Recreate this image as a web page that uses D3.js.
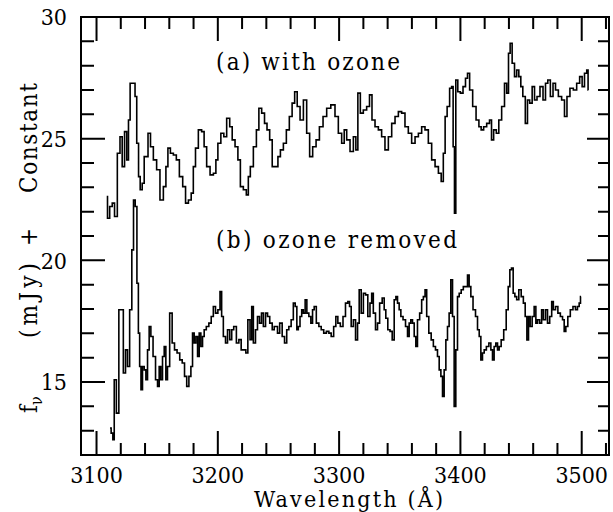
<!DOCTYPE html>
<html><head><meta charset="utf-8">
<script src="https://cdn.jsdelivr.net/npm/d3@7"></script>
</head>
<body style="margin:0"><svg id="c" width="613" height="512"></svg>
<script>
// spectrum (a) with ozone: [wavelength (Å), flux (mJy + const)]
const specA = [[3108.4,22.62],[3109.7,21.73],[3112.0,22.21],[3113.9,22.35],[3115.8,21.80],[3118.5,24.40],[3120.2,25.08],[3122.1,23.85],[3124.1,25.29],[3125.7,24.13],[3127.0,25.77],[3128.4,27.28],[3131.2,27.28],[3132.3,26.73],[3134.0,24.81],[3135.3,23.44],[3136.7,22.90],[3138.6,23.17],[3140.0,24.26],[3141.4,24.26],[3143.5,25.22],[3145.5,24.67],[3148.2,24.13],[3150.9,23.72],[3153.7,22.48],[3156.5,23.03],[3157.9,23.85],[3159.8,24.61],[3162.0,24.40],[3164.7,24.33],[3166.9,24.13],[3169.7,23.44],[3172.4,23.03],[3174.4,22.35],[3177.1,22.48],[3179.0,22.76],[3180.6,23.85],[3182.6,24.61],[3185.3,25.36],[3188.0,25.29],[3189.4,24.67],[3192.2,23.85],[3195.0,23.51],[3197.7,23.58],[3199.1,24.13],[3201.0,24.81],[3204.0,25.22],[3205.9,25.08],[3208.7,25.84],[3210.9,25.49],[3212.8,24.95],[3215.6,24.67],[3217.5,24.13],[3219.7,23.03],[3222.4,22.90],[3224.6,22.69],[3225.7,23.44],[3227.9,23.85],[3230.7,24.67],[3232.9,25.36],[3234.8,26.25],[3237.5,26.05],[3239.5,25.63],[3241.6,25.36],[3243.9,24.95],[3245.8,23.85],[3248.6,23.85],[3250.5,24.26],[3252.7,24.54],[3255.4,24.81],[3257.6,25.36],[3260.3,25.91],[3262.2,26.46],[3264.5,26.93],[3266.4,26.32],[3269.2,25.77],[3271.9,26.59],[3274.6,25.22],[3276.8,24.26],[3279.6,24.67],[3282.4,24.95],[3285.1,25.49],[3288.4,25.91],[3291.1,26.25],[3295.2,26.39],[3298.0,25.91],[3300.7,25.22],[3303.5,24.81],[3304.9,25.36],[3307.6,24.95],[3310.4,24.47],[3313.1,25.08],[3314.5,24.54],[3316.4,26.87],[3318.6,26.05],[3321.3,26.18],[3324.1,26.32],[3326.0,26.80],[3328.2,25.77],[3331.0,25.49],[3333.7,25.36],[3336.4,25.08],[3339.2,24.54],[3342.0,25.08],[3344.7,25.63],[3347.5,25.91],[3350.2,26.11],[3352.9,26.05],[3355.7,25.49],[3358.4,25.22],[3361.2,24.81],[3364.0,25.08],[3366.7,25.22],[3369.4,25.49],[3372.2,25.36],[3374.9,24.81],[3377.7,24.13],[3380.5,23.85],[3383.2,23.58],[3385.1,23.24],[3386.7,24.40],[3388.1,25.91],[3390.0,26.32],[3392.2,27.07],[3393.3,27.14],[3394.7,24.67],[3395.5,21.94],[3396.9,27.41],[3398.8,26.93],[3401.1,26.87],[3403.2,27.14],[3405.2,27.48],[3406.5,27.69],[3408.7,27.00],[3411.5,26.32],[3414.3,25.77],[3416.2,25.49],[3418.0,25.36],[3420.3,25.49],[3423.0,25.63],[3425.0,25.77],[3426.3,24.95],[3428.5,25.36],[3430.7,25.22],[3432.6,25.77],[3435.4,26.32],[3437.3,27.28],[3439.0,26.87],[3440.3,28.51],[3441.7,28.92],[3443.6,28.10],[3445.6,27.55],[3447.2,27.82],[3449.1,27.55],[3450.5,27.14],[3452.4,26.73],[3454.6,25.63],[3456.0,26.59],[3458.2,26.46],[3460.1,27.14],[3462.1,26.59],[3464.2,26.73],[3467.0,27.14],[3469.2,26.59],[3471.1,27.28],[3473.0,27.41],[3475.3,26.73],[3477.4,27.28],[3479.4,27.00],[3482.1,26.73],[3484.8,26.59],[3486.8,25.91],[3488.9,26.73],[3491.7,27.07],[3494.5,27.00],[3497.2,27.28],[3499.4,27.55],[3501.3,27.14],[3503.3,27.69],[3505.0,27.82],[3505.5,27.00]];

// spectrum (b) ozone removed
const specB = [[3111.1,13.11],[3113.0,12.90],[3113.9,12.63],[3115.3,15.09],[3117.4,13.72],[3119.4,17.97],[3121.3,17.97],[3122.9,15.37],[3124.9,16.32],[3126.2,15.64],[3128.4,17.97],[3129.8,20.43],[3131.2,22.48],[3132.6,22.21],[3134.0,19.06],[3135.0,17.01],[3136.1,15.64],[3137.2,14.68],[3138.6,15.64],[3140.0,15.50],[3141.4,15.09],[3142.7,16.32],[3144.1,17.28],[3145.5,16.87],[3147.7,16.05],[3149.6,15.09],[3151.0,14.82],[3152.3,15.64],[3153.7,15.09],[3155.1,16.05],[3156.5,16.46],[3157.8,15.09],[3159.2,15.64],[3161.4,17.83],[3163.3,16.60],[3165.3,16.32],[3167.5,16.19],[3169.7,15.91],[3171.6,15.78],[3173.5,15.23],[3175.2,14.82],[3177.1,15.23],[3178.5,15.64],[3179.8,17.01],[3181.2,16.60],[3182.6,16.87],[3184.0,16.05],[3185.3,17.01],[3186.7,16.46],[3188.1,16.87],[3189.4,17.15],[3191.6,17.28],[3193.6,17.42],[3195.5,17.69],[3197.1,18.10],[3199.1,17.83],[3201.0,17.97],[3202.6,18.72],[3203.7,17.69],[3205.4,16.87],[3207.3,16.60],[3208.7,17.15],[3210.9,16.74],[3212.0,17.15],[3214.2,17.28],[3216.4,16.60],[3218.3,16.74],[3220.2,16.32],[3222.4,16.32],[3223.8,16.19],[3225.7,17.56],[3227.4,16.74],[3228.5,18.10],[3230.1,16.60],[3232.0,17.15],[3233.4,17.69],[3235.3,17.42],[3236.7,17.83],[3238.4,17.28],[3240.3,17.83],[3241.7,17.69],[3243.9,17.42],[3245.8,17.15],[3247.2,17.28],[3248.5,17.28],[3249.9,17.01],[3252.1,17.42],[3254.0,16.87],[3256.0,16.60],[3257.6,17.15],[3259.5,17.28],[3261.4,17.56],[3263.1,18.24],[3264.5,18.10],[3265.8,17.15],[3266.9,17.28],[3268.6,17.69],[3269.7,17.97],[3271.3,17.83],[3272.7,18.38],[3274.1,17.83],[3276.0,17.69],[3277.4,17.42],[3278.8,17.97],[3280.1,18.10],[3282.3,17.42],[3284.3,17.28],[3286.2,17.15],[3288.4,17.01],[3290.6,17.08],[3292.5,17.01],[3294.4,16.87],[3296.6,17.28],[3298.0,17.69],[3299.9,17.42],[3302.1,17.28],[3304.3,17.69],[3306.2,18.24],[3308.2,18.31],[3309.0,18.10],[3310.9,17.28],[3312.6,17.56],[3314.5,16.73],[3315.9,17.42],[3317.2,18.79],[3319.2,17.83],[3320.8,18.65],[3322.7,18.58],[3324.6,17.69],[3326.3,18.24],[3327.4,18.65],[3329.0,17.83],[3331.0,17.15],[3332.3,17.42],[3334.5,18.24],[3336.5,18.45],[3337.8,17.97],[3339.2,17.62],[3341.1,17.15],[3342.8,17.08],[3344.7,16.73],[3346.1,18.38],[3347.5,18.51],[3348.8,18.24],[3350.2,17.97],[3351.6,17.69],[3353.8,17.56],[3355.7,17.28],[3357.1,16.87],[3358.4,17.42],[3359.8,17.56],[3361.2,17.42],[3362.6,16.87],[3363.9,16.46],[3365.3,17.56],[3367.5,17.83],[3368.6,18.38],[3370.3,18.51],[3371.4,18.79],[3373.0,17.69],[3374.9,17.01],[3376.9,16.73],[3378.5,16.46],[3380.4,16.32],[3381.8,16.05],[3383.2,15.50],[3384.6,15.23],[3385.9,14.41],[3387.3,15.50],[3388.7,16.73],[3390.0,17.28],[3391.4,17.83],[3392.8,19.20],[3394.2,17.69],[3395.5,14.00],[3396.9,16.32],[3398.3,18.51],[3399.7,18.65],[3401.6,18.79],[3403.2,18.92],[3405.2,18.92],[3406.5,19.40],[3407.9,18.92],[3409.3,18.51],[3411.5,17.97],[3413.4,17.69],[3414.8,17.15],[3416.2,16.87],[3417.5,15.91],[3418.9,16.19],[3420.3,16.32],[3422.5,16.46],[3424.4,16.60],[3425.8,16.32],[3427.1,15.91],[3428.5,16.46],[3429.9,16.60],[3431.3,16.32],[3432.6,16.46],[3434.6,16.73],[3436.8,17.15],[3438.7,17.97],[3440.1,18.92],[3441.4,19.61],[3442.8,19.68],[3444.2,18.65],[3445.6,18.51],[3447.2,18.38],[3449.1,18.79],[3451.1,18.51],[3452.7,18.24],[3454.1,17.69],[3455.5,16.73],[3456.8,17.69],[3458.2,17.28],[3460.1,17.69],[3461.5,18.10],[3462.9,17.42],[3464.2,17.56],[3466.4,17.42],[3467.5,17.97],[3469.2,17.56],[3471.1,17.97],[3472.5,17.42],[3474.7,17.69],[3475.8,18.31],[3477.4,17.97],[3479.4,18.10],[3481.3,17.83],[3483.5,17.69],[3484.9,17.56],[3486.2,17.08],[3487.6,17.28],[3489.5,17.69],[3491.7,17.97],[3493.9,18.10],[3495.8,17.97],[3497.2,18.10],[3498.6,18.24],[3499.4,18.51]];

const xMajorTicks = [3100, 3200, 3300, 3400, 3500];
const yMajorTicks = [15, 20, 25, 30];
const labelA = "(a) with ozone";
const labelB = "(b) ozone removed";
const xTitle = "Wavelength (Å)";

const FONT = "DejaVu Serif Condensed, DejaVu Serif, serif";
const L = 81, R = 609, T = 17, B = 455;
const svg = d3.select("#c");
const x = d3.scaleLinear().domain([3087.2, 3522.5]).range([L, R]);
const y = d3.scaleLinear().domain([12, 30]).range([B, T]);

const minorX = d3.range(3100, 3521, 20).filter(v => v % 100 !== 0);
const minorY = d3.range(13, 30, 1).filter(v => v % 5 !== 0);

// frame
svg.append("rect").attr("x",L).attr("y",T).attr("width",R-L).attr("height",B-T)
  .attr("fill","none").attr("stroke","#000").attr("stroke-width",2);

// inward ticks on all four sides
const tp = d3.path();
xMajorTicks.forEach(v => { tp.moveTo(x(v), B); tp.lineTo(x(v), B - 24); tp.moveTo(x(v), T); tp.lineTo(x(v), T + 24); });
minorX.forEach(v => { tp.moveTo(x(v), B); tp.lineTo(x(v), B - 12); tp.moveTo(x(v), T); tp.lineTo(x(v), T + 12); });
yMajorTicks.forEach(v => { tp.moveTo(L, y(v)); tp.lineTo(L + 24, y(v)); tp.moveTo(R, y(v)); tp.lineTo(R - 22, y(v)); });
minorY.forEach(v => { tp.moveTo(L, y(v)); tp.lineTo(L + 13, y(v)); tp.moveTo(R, y(v)); tp.lineTo(R - 11, y(v)); });
svg.append("path").attr("d", tp.toString()).attr("fill","none").attr("stroke","#000").attr("stroke-width",2);

// spectra
const stepLine = d3.line().x(d => x(d[0])).y(d => y(d[1])).curve(d3.curveStep);
svg.append("path").attr("d", stepLine(specA)).attr("fill","none").attr("stroke","#000").attr("stroke-width",1.6);
svg.append("path").attr("d", stepLine(specB)).attr("fill","none").attr("stroke","#000").attr("stroke-width",1.6);

// tick labels
xMajorTicks.forEach(v => svg.append("text").attr("font-family",FONT).attr("x",x(v)).attr("y",483)
  .attr("text-anchor","middle").attr("font-size",23).text(d3.format("d")(v)));
yMajorTicks.forEach(v => svg.append("text").attr("font-family",FONT).attr("x",67).attr("y",y(v)).attr("dy","0.36em")
  .attr("text-anchor","end").attr("font-size",23).text(d3.format("d")(v)));

// annotations
svg.append("text").attr("font-family",FONT).attr("x",216).attr("y",70).attr("font-size",24).attr("textLength",184).attr("lengthAdjust","spacing").text(labelA);
svg.append("text").attr("font-family",FONT).attr("x",216).attr("y",248).attr("font-size",24).attr("textLength",241).attr("lengthAdjust","spacing").text(labelB);
svg.append("text").attr("font-family",FONT).attr("x",254).attr("y",507).attr("font-size",23).attr("textLength",189).attr("lengthAdjust","spacing").text(xTitle);

// rotated y title
const fTxt = svg.append("text").attr("font-family",FONT).attr("font-size",24).attr("transform","translate(37,413) rotate(-90)");
fTxt.append("tspan").text("f");
fTxt.append("tspan").attr("font-size",16).attr("dy",5).text("ν");
svg.append("text").attr("font-family",FONT).attr("font-size",24).attr("transform","translate(37,338) rotate(-90)").attr("textLength",75).attr("lengthAdjust","spacing").text("(mJy)");
svg.append("text").attr("font-family",FONT).attr("font-size",24).attr("transform","translate(37,237) rotate(-90)").attr("text-anchor","middle").text("+");
svg.append("text").attr("font-family",FONT).attr("font-size",24).attr("transform","translate(37,193) rotate(-90)").attr("textLength",110).attr("lengthAdjust","spacing").text("Constant");
</script></body></html>
